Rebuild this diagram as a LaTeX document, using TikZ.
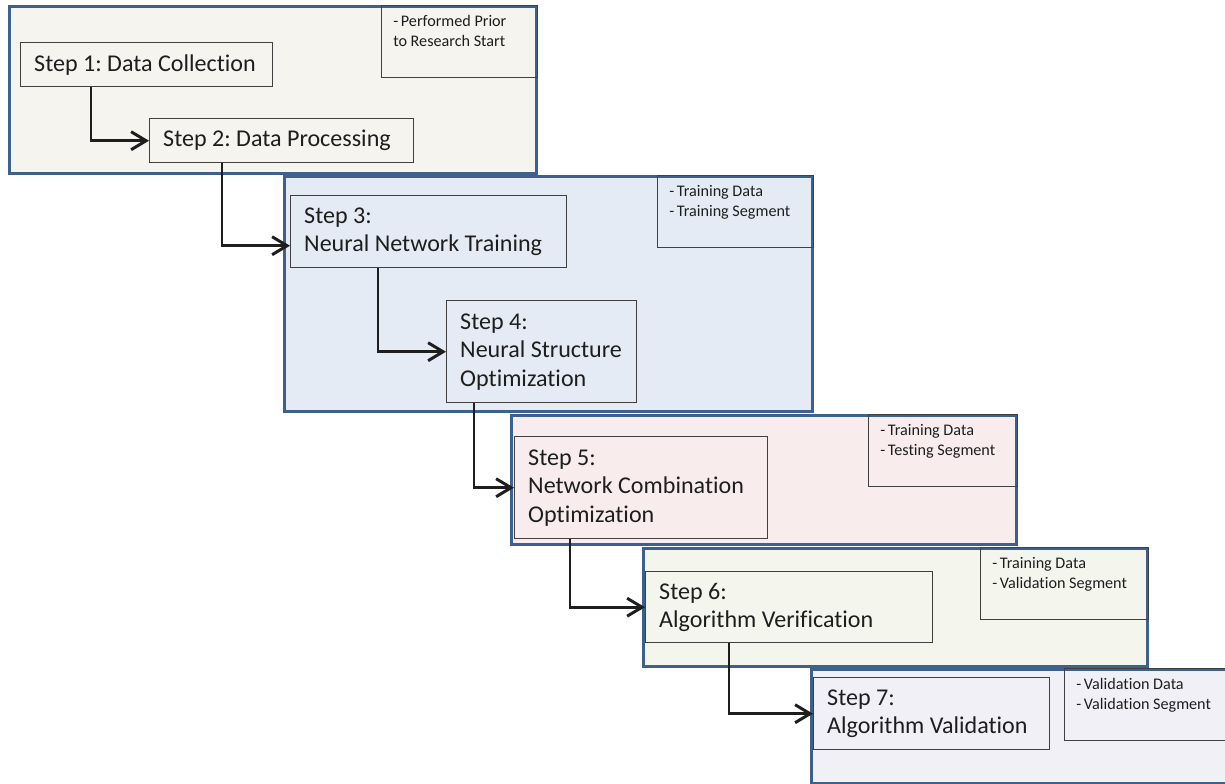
\documentclass[tikz,border=0pt]{standalone}
\usepackage{fontspec}
\setmainfont{Carlito}[Ligatures=NoCommon]
\frenchspacing
\usetikzlibrary{arrows.meta,positioning,calc}
\definecolor{panelline}{RGB}{62,96,140}
\definecolor{boxline}{RGB}{64,64,64}
\definecolor{textcol}{RGB}{30,30,30}
\definecolor{fillone}{RGB}{245,244,239}
\definecolor{filltwo}{RGB}{229,235,245}
\definecolor{fillthree}{RGB}{248,237,236}
\definecolor{fillfour}{RGB}{244,246,238}
\definecolor{fillfive}{RGB}{242,240,247}
\edef\panelwidth{0.85pt}
\tikzstyle{panel}=[draw=panelline,line width=\panelwidth,anchor=north west,inner sep=0pt]
\tikzstyle{stepbox}=[draw=boxline,line width=0.4pt,anchor=north west,inner sep=0pt,font=\fontsize{6.85}{8.1}\selectfont,text=textcol]
\tikzstyle{notebox}=[draw=boxline,line width=0.4pt,anchor=north east,inner xsep=1.2mm,inner ysep=1mm,font=\fontsize{4.6}{5.55}\selectfont,text=textcol]
\tikzstyle{flow}=[draw=textcol,line width=\panelwidth,-{Straight Barb[length=1.5mm,width=1.8mm]}]
\newcommand{\notetext}[2]{\parbox[c][5.2mm][t]{#1}{\raggedright #2}}
\newcommand{\steptext}[2]{\parbox[c]{#1}{\raggedright\leftskip=1.35mm #2}}

\begin{document}
\begin{tikzpicture}[x=0.1mm,y=-0.1mm]
	\useasboundingbox (0,0) rectangle (1225,784);
	\clip (0,0) rectangle (1225,784);

	% prior to research
	\node[panel,fill=fillone,minimum width=52.7mm,minimum height=16.7mm] (p1) at (8,5) {};
	\node[notebox] (n1) at (p1.north east) {\notetext{13.2mm}{-\,Performed Prior\\to Research Start}};
	\node[stepbox,minimum height=4.4mm] (s1) at (20,42) {\steptext{25.2mm}{Step 1: Data Collection}};
	\node[stepbox,minimum height=4.4mm] (s2) at (149,118) {\steptext{26.4mm}{Step 2: Data Processing}};

	% training segment
	\node[panel,fill=filltwo,minimum width=52.8mm,minimum height=23.5mm] (p2) at (283,175) {};
	\node[notebox] (n2) at (p2.north east) {\notetext{13.2mm}{-\,Training Data\\-\,Training Segment}};
	\node[stepbox,minimum height=7.2mm] (s3) at (290,195) {\steptext{27.6mm}{Step 3:\\Neural Network Training}};
	\node[stepbox,minimum height=10.2mm] (s4) at (446,300) {\steptext{19mm}{Step 4:\\Neural Structure\\Optimization}};

	% testing segment
	\node[panel,fill=fillthree,minimum width=50.5mm,minimum height=12.9mm] (p3) at (510,414) {};
	\node[notebox] (n3) at (p3.north east) {\notetext{12.5mm}{-\,Training Data\\-\,Testing Segment}};
	\node[stepbox,minimum height=10.2mm] (s5) at (514,436) {\steptext{25.3mm}{Step 5:\\Network Combination\\Optimization}};

	% validation segment
	\node[panel,fill=fillfour,minimum width=50.4mm,minimum height=11.8mm] (p4) at (642,547) {};
	\node[notebox] (n4) at (p4.north east) {\notetext{14.4mm}{-\,Training Data\\-\,Validation Segment}};
	\node[stepbox,minimum height=7.1mm] (s6) at (645,571) {\steptext{28.7mm}{Step 6:\\Algorithm Verification}};

	% validation data
	\node[panel,fill=fillfive,minimum width=43mm,minimum height=11.4mm] (p5) at (810,668) {};
	\node[notebox] (n5) at (p5.north east) {\notetext{15.4mm}{-\,Validation Data\\-\,Validation Segment}};
	\node[stepbox,minimum height=7.2mm] (s7) at (813,677) {\steptext{23.6mm}{Step 7:\\Algorithm Validation}};

	\draw[flow] ([xshift=7.1mm]s1.south west) |- (s2.west);
	\draw[flow] ([xshift=7.3mm]s2.south west) |- ([yshift=-1.4mm]s3.west);
	\draw[flow] ([xshift=8.8mm]s3.south west) |- (s4.west);
	\draw[flow] ([xshift=2.8mm]s4.south west) |- (s5.west);
	\draw[flow] ([xshift=5.6mm]s5.south west) |- (s6.west);
	\draw[flow] ([xshift=8.4mm]s6.south west) |- (s7.west);
\end{tikzpicture}
\end{document}
